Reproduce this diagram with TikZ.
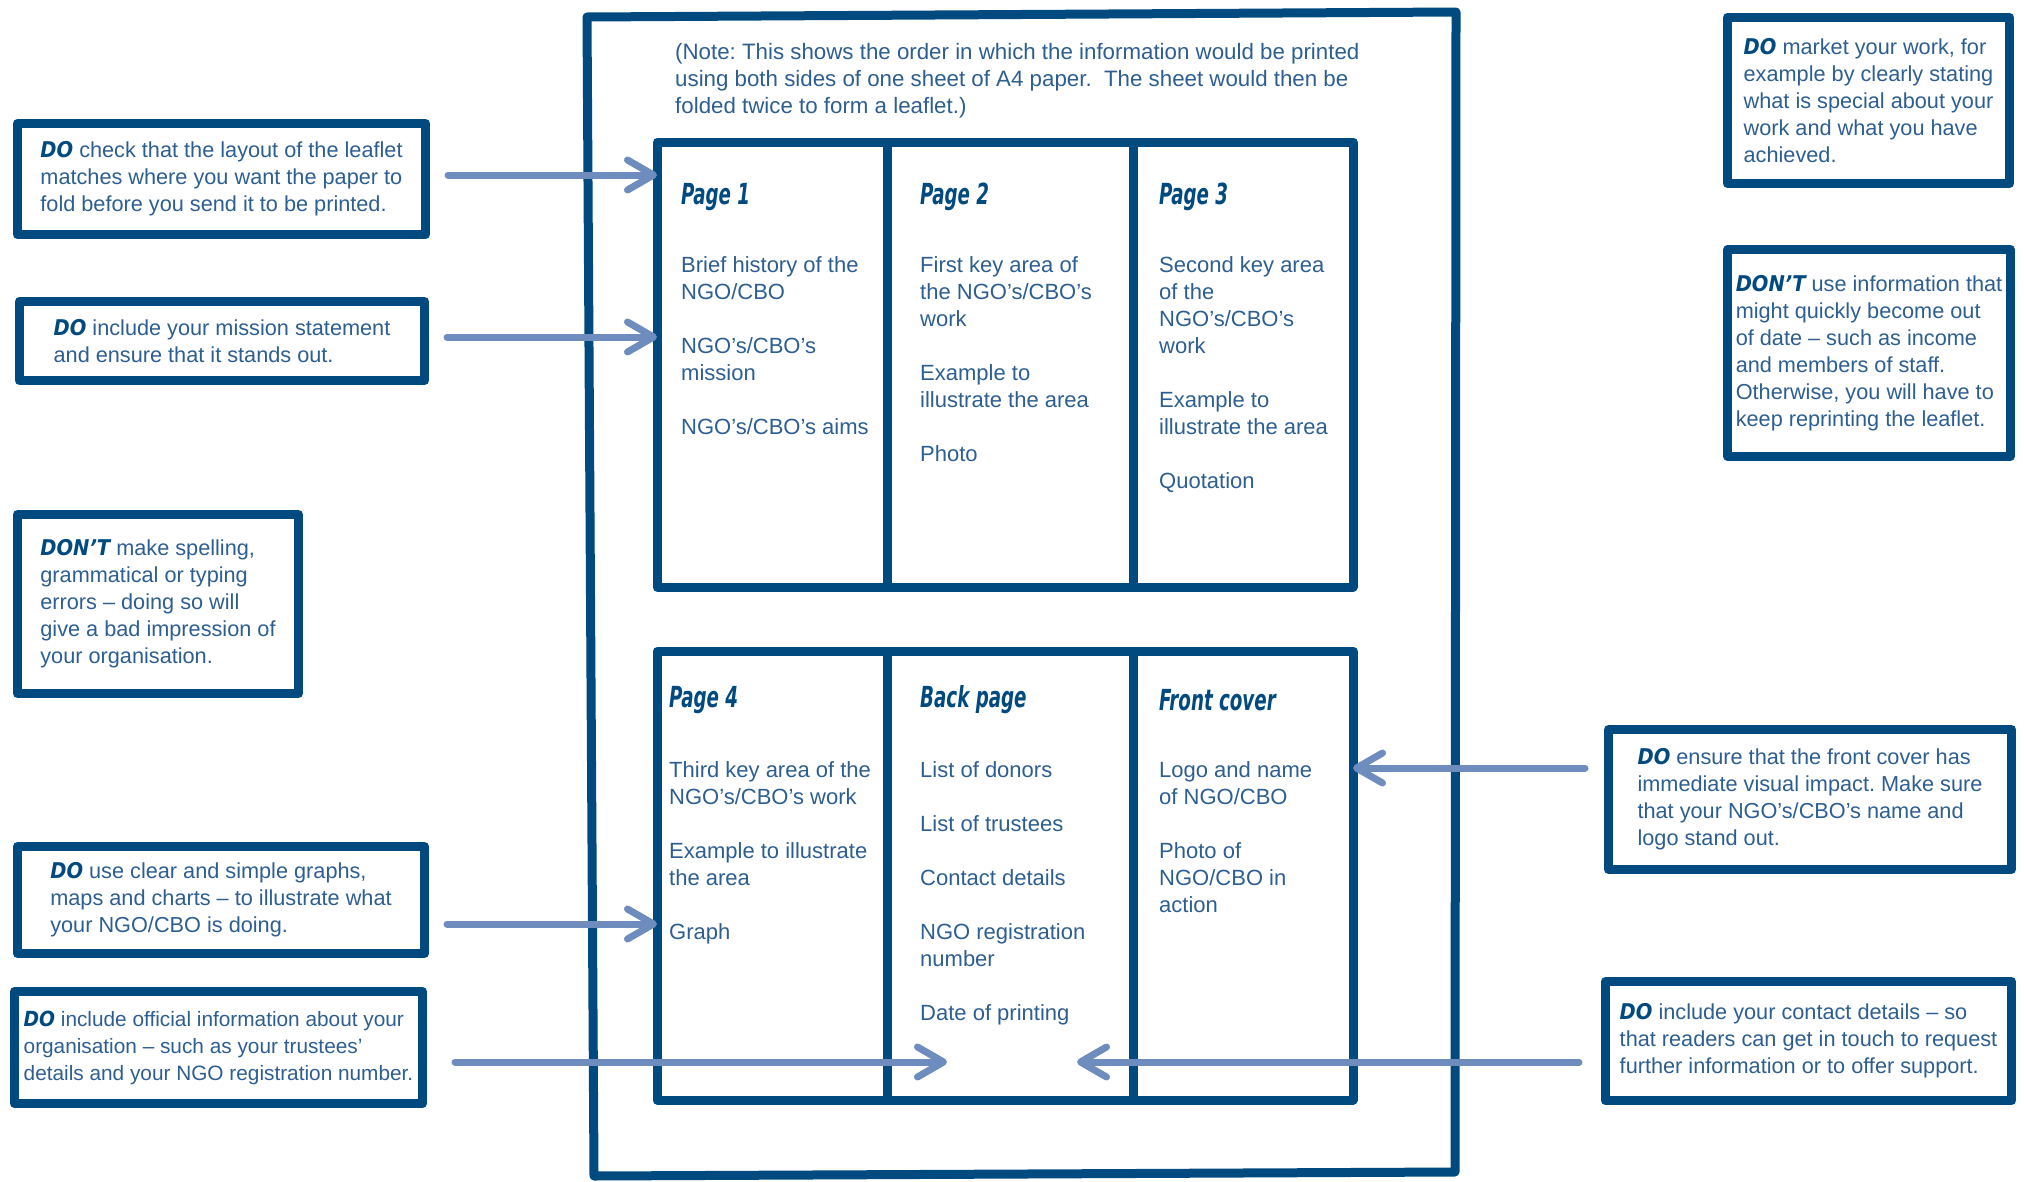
\documentclass[tikz,border=0pt]{standalone}
\usepackage{fontspec}
\setmainfont{Liberation Sans}
\newfontfamily\brushfont{DejaVu Sans Condensed}
\usetikzlibrary{arrows.meta,positioning}
\definecolor{sheetblue}{HTML}{004A80}
\definecolor{inkblue}{HTML}{2D5E91}
\definecolor{pointerblue}{HTML}{6E8DBE}
\newcommand{\dolabel}{{\brushfont\bfseries\itshape\color{sheetblue}DO}}
\newcommand{\dontlabel}{{\brushfont\bfseries\itshape\color{sheetblue}DON’T}}
\newcommand{\pagehead}[1]{\scalebox{0.7}[1]{\brushfont\bfseries\itshape\fontsize{29}{29}\selectfont #1}}
\tikzstyle{tipbox}=[draw=sheetblue,line width=9pt,inner xsep=8pt,align=left,text=inkblue,font=\fontsize{21.7}{27}\selectfont]
\tikzstyle{column}=[draw=sheetblue,line width=9pt,outer sep=0pt,inner sep=0pt]
\tikzstyle{coltext}=[anchor=north west,inner sep=0pt,align=left,text=inkblue,font=\fontsize{22}{27}\selectfont]
\tikzstyle{colhead}=[anchor=west,inner sep=0pt,text=sheetblue]
\tikzstyle{pointer}=[draw=pointerblue,line width=7pt,line cap=round,-{Straight Barb[length=26pt,width=30pt,round]}]
\frenchspacing

\begin{document}
\begin{tikzpicture}[x=1pt,y=-1pt,line join=round]
    \useasboundingbox (0,0) rectangle (2024,1181);

    % the A4 sheet
    \draw[sheetblue,line width=9pt] (587,17) -- (1456,12) -- (1455,1172) -- (594,1176) -- cycle;
    \node[coltext,font=\fontsize{22.3}{27}\selectfont] (note) at (675,43)
        {(Note: This shows the order in which the information would be printed\\
         using both sides of one sheet of A4 paper.\ \ The sheet would then be\\
         folded twice to form a leaflet.)};

    % inside of the leaflet
    \node[column,minimum width=230,minimum height=445] (p1) at (772,364.5) {};
    \node[column,minimum width=246,minimum height=445] (p2) [right=0pt of p1] {};
    \node[column,minimum width=220,minimum height=445] (p3) [right=0pt of p2] {};
    % outside of the leaflet
    \node[column,minimum width=230,minimum height=449] (p4) [below=64pt of p1] {};
    \node[column,minimum width=246,minimum height=449] (back) [right=0pt of p4] {};
    \node[column,minimum width=220,minimum height=449] (front) [right=0pt of back] {};

    \node[colhead] (h1) at ([shift={(24,55)}]p1.north west) {\pagehead{Page 1}};
    \node[colhead] (h2) at ([shift={(33,55)}]p2.north west) {\pagehead{Page 2}};
    \node[colhead] (h3) at ([shift={(26,55)}]p3.north west) {\pagehead{Page 3}};
    \node[colhead] (h4) at ([shift={(12,49)}]p4.north west) {\pagehead{Page 4}};
    \node[colhead] (h5) at ([shift={(33,49)}]back.north west) {\pagehead{Back page}};
    \node[colhead] (h6) at ([shift={(26,49)}]front.north west) {\pagehead{Front cover}};

    \node[coltext] (t1) at ([shift={(24,114)}]p1.north west)
        {Brief history of the\\NGO/CBO\\[27pt]NGO's/CBO's\\mission\\[27pt]NGO's/CBO's aims};
    \node[coltext] (t2) at ([shift={(33,114)}]p2.north west)
        {First key area of\\the NGO's/CBO's\\work\\[27pt]Example to\\illustrate the area\\[27pt]Photo};
    \node[coltext] (t3) at ([shift={(26,114)}]p3.north west)
        {Second key area\\of the\\NGO's/CBO's\\work\\[27pt]Example to\\illustrate the area\\[27pt]Quotation};
    \node[coltext] (t4) at ([shift={(12,110)}]p4.north west)
        {Third key area of the\\NGO's/CBO's work\\[27pt]Example to illustrate\\the area\\[27pt]Graph};
    \node[coltext] (t5) at ([shift={(33,110)}]back.north west)
        {List of donors\\[27pt]List of trustees\\[27pt]Contact details\\[27pt]NGO registration\\number\\[27pt]Date of printing};
    \node[coltext] (t6) at ([shift={(26,110)}]front.north west)
        {Logo and name\\of NGO/CBO\\[27pt]Photo of\\NGO/CBO in\\action};

    % advice on the left
    \node[tipbox,minimum width=408,minimum height=111] (l1) at (221.5,179)
        {\dolabel{} check that the layout of the leaflet\\matches where you want the paper to\\fold before you send it to be printed.};
    \node[tipbox,minimum width=405,minimum height=79] (l2) at (222,341)
        {\dolabel{} include your mission statement\\and ensure that it stands out.};
    \node[tipbox,minimum width=281,minimum height=179] (l3) at (158,604)
        {\dontlabel{} make spelling,\\grammatical or typing\\errors -- doing so will\\give a bad impression of\\your organisation.};
    \node[tipbox,minimum width=407,minimum height=107] (l4) at (221,900)
        {\dolabel{} use clear and simple graphs,\\maps and charts -- to illustrate what\\your NGO/CBO is doing.};
    \node[tipbox,minimum width=408,minimum height=112,font=\fontsize{20.8}{27}\selectfont] (l5) at (218.5,1047.5)
        {\dolabel{} include official information about your\\organisation -- such as your trustees'\\details and your NGO registration number.};

    % advice on the right
    \node[tipbox,minimum width=282,minimum height=166] (r1) at (1868.5,100.5)
        {\dolabel{} market your work, for\\example by clearly stating\\what is special about your\\work and what you have\\achieved.};
    \node[tipbox,minimum width=281,minimum height=207] (r2) at (1869,353)
        {\dontlabel{} use information that\\might quickly become out\\of date -- such as income\\and members of staff.\\Otherwise, you will have to\\keep reprinting the leaflet.};
    \node[tipbox,minimum width=403,minimum height=140] (r3) at (1810,799.5)
        {\dolabel{} ensure that the front cover has\\immediate visual impact. Make sure\\that your NGO's/CBO's name and\\logo stand out.};
    \node[tipbox,minimum width=406,minimum height=119] (r4) at (1808.5,1041)
        {\dolabel{} include your contact details -- so\\that readers can get in touch to request\\further information or to offer support.};

    % pointers
    \draw[pointer,shorten <=18pt] ([yshift=4]l1.east) -- ([yshift=4]l1.east -| p1.west);
    \draw[pointer,shorten <=18pt] ([yshift=4]l2.east) -- ([yshift=4]l2.east -| p1.west);
    \draw[pointer,shorten <=18pt] ([yshift=-24]l4.east) -- ([yshift=-24]l4.east -| p4.west);
    \draw[pointer,shorten <=28pt] ([yshift=-14.5]l5.east) -- ([xshift=60,yshift=-14.5]l5.east -| back.west);
    \draw[pointer,shorten <=22pt] ([yshift=-21]r4.west) -- ([xshift=-56,yshift=-21]r4.west -| back.east);
    \draw[pointer,shorten <=19pt] ([yshift=31.5]r3.west) -- ([yshift=31.5]r3.west -| front.east);
\end{tikzpicture}
\end{document}
